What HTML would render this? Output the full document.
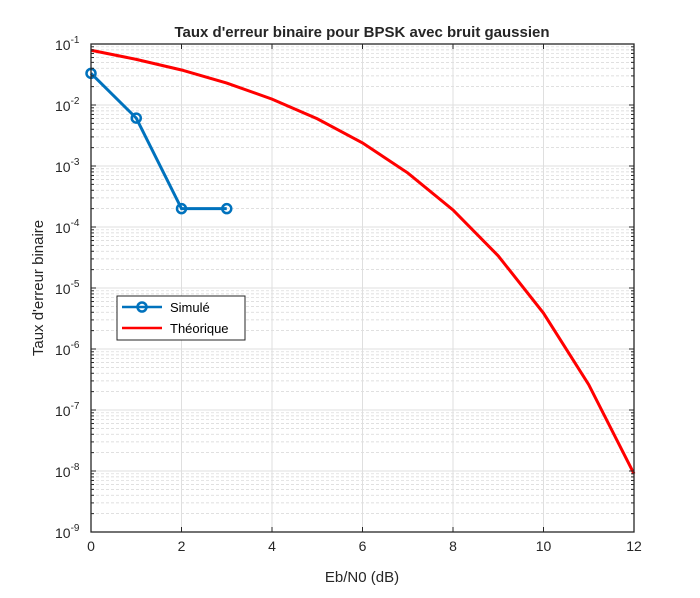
<!DOCTYPE html>
<html><head><meta charset="utf-8"><style>
body{margin:0;background:#fff;}
svg{display:block;font-family:"Liberation Sans",Arial,sans-serif;}
</style></head><body>
<svg id="chart" width="700" height="598">
<rect width="700" height="598" fill="#fff"/>
<g id="grid"></g>
<g id="series"></g>
<g id="axes"></g>
<text x="362" y="37" text-anchor="middle" font-size="15" font-weight="bold" fill="#262626">Taux d'erreur binaire pour BPSK avec bruit gaussien</text>
<text x="362" y="582" text-anchor="middle" font-size="15" fill="#262626">Eb/N0 (dB)</text>
<text transform="translate(43,288) rotate(-90)" text-anchor="middle" font-size="15" fill="#262626">Taux d'erreur binaire</text>
<g>
<rect x="117" y="296" width="128" height="44" fill="#fff" stroke="#262626" stroke-width="1"/>
<g>
<line x1="122" y1="307" x2="162" y2="307" stroke="#0072bd" stroke-width="2.5"/>
<circle cx="142" cy="307" r="4.5" fill="none" stroke="#0072bd" stroke-width="2.5"/>
<text x="170" y="312" font-size="13" fill="#000">Simulé</text>
</g>
<g>
<line x1="122" y1="328" x2="162" y2="328" stroke="#ff0000" stroke-width="2.5"/>
<text x="170" y="333" font-size="13" fill="#000">Théorique</text>
</g>
</g>
</svg>
<script>
const xTicks=[0,2,4,6,8,10,12];
const yExps=[-1,-2,-3,-4,-5,-6,-7,-8,-9];
const theoX=[0,1,2,3,4,5,6,7,8,9,10,11,12];
const theoY=[7.9e-2,5.6e-2,3.75e-2,2.29e-2,1.25e-2,5.95e-3,2.39e-3,7.7e-4,1.9e-4,3.36e-5,3.87e-6,2.6e-7,9.0e-9];
const simX=[0,1,2,3];
const simY=[0.033,0.0061,2e-4,2e-4];
const L=91,R=634,T=44,B=532;
const ns="http://www.w3.org/2000/svg";
const xs=v=>L+(v-0)/(12-0)*(R-L);
const ys=v=>T+(-1-Math.log10(v))/8*(B-T);
function mk(tag,attrs,parent){const e=document.createElementNS(ns,tag);for(const k in attrs)e.setAttribute(k,attrs[k]);parent.appendChild(e);return e;}
const grid=document.getElementById('grid'),ser=document.getElementById('series'),ax=document.getElementById('axes');
for(let d=-9;d<-1;d++){for(let m=2;m<=9;m++){const y=ys(m*Math.pow(10,d));
const g=mk('line',{x1:L,x2:R,y1:y,y2:y,stroke:'#d6d6d6','stroke-width':0.7,'stroke-dasharray':'3,2'},grid);


mk('line',{x1:L,x2:L+3,y1:y,y2:y,stroke:'#262626'},ax);
mk('line',{x1:R,x2:R-3,y1:y,y2:y,stroke:'#262626'},ax);}}
xTicks.forEach(t=>{const x=xs(t);
const g=mk('line',{x1:x,x2:x,y1:T,y2:B,stroke:'#dfdfdf','stroke-width':1},grid);


mk('line',{x1:x,x2:x,y1:B,y2:B-5,stroke:'#262626'},ax);
mk('line',{x1:x,x2:x,y1:T,y2:T+5,stroke:'#262626'},ax);
const tx=mk('text',{x:x,y:B+19,'text-anchor':'middle','font-size':14,fill:'#262626'},ax);
tx.textContent=t;

});
yExps.forEach(e=>{const y=ys(Math.pow(10,e));
const g=mk('line',{x1:L,x2:R,y1:y,y2:y,stroke:'#dfdfdf','stroke-width':1},grid);


mk('line',{x1:L,x2:L+5,y1:y,y2:y,stroke:'#262626'},ax);
mk('line',{x1:R,x2:R-5,y1:y,y2:y,stroke:'#262626'},ax);
const tx=mk('text',{x:L-36,y:y+6,'text-anchor':'start','font-size':14,fill:'#262626'},ax);


const a=mk('tspan',{},tx);a.textContent='10';
const b=mk('tspan',{dy:-7,'font-size':10},tx);b.textContent=String(e);});
mk('rect',{x:L,y:T,width:R-L,height:B-T,fill:'none',stroke:'#262626','stroke-width':1.3},ax);
const tp=mk('polyline',{points:theoX.map((x,i)=>xs(x)+','+ys(theoY[i])).join(' '),fill:'none',stroke:'#ff0000','stroke-width':3},ser);


const sp=mk('polyline',{points:simX.map((x,i)=>xs(x)+','+ys(simY[i])).join(' '),fill:'none',stroke:'#0072bd','stroke-width':3},ser);


simX.forEach((x,i)=>{const c=mk('circle',{cx:xs(x),cy:ys(simY[i]),r:4.5,fill:'none',stroke:'#0072bd','stroke-width':2.5},ser);

});
</script>
</body></html>
